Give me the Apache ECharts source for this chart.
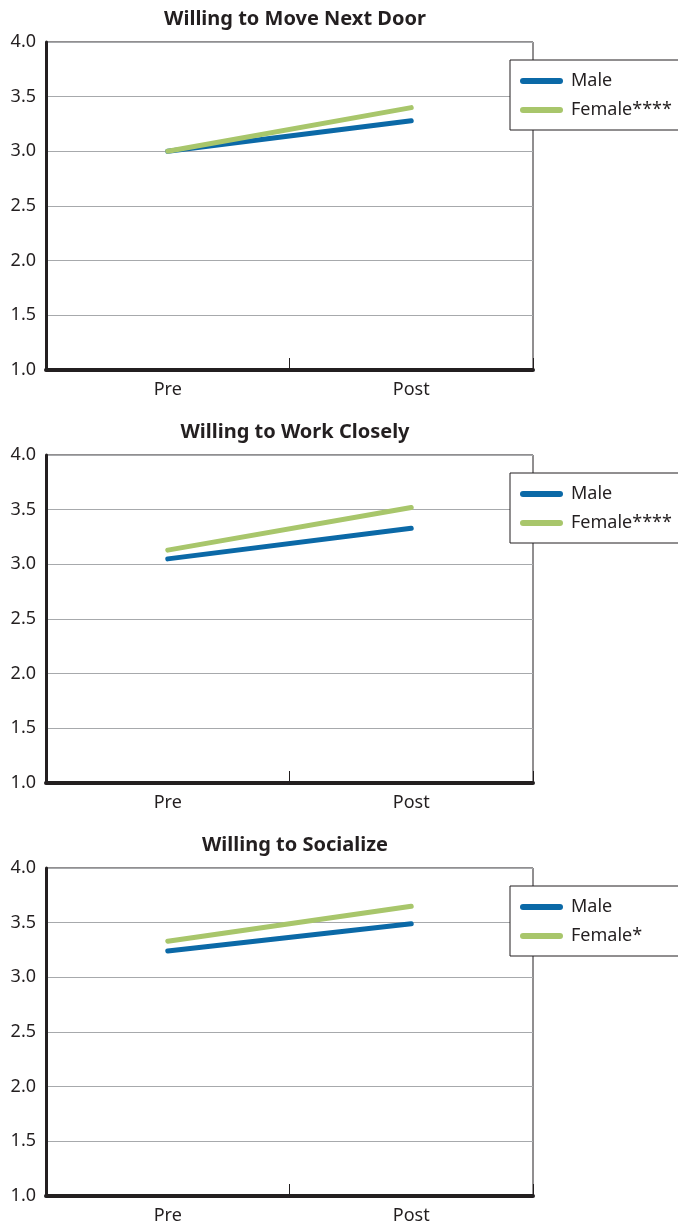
<!DOCTYPE html>
<html>
<head>
<meta charset="utf-8">
<script src="https://cdn.jsdelivr.net/npm/echarts@6/dist/echarts.min.js"></script>
<style>
  html, body { margin: 0; padding: 0; background: #fff; }
  .chart { width: 678px; }
</style>
</head>
<body>
<div id="c1" class="chart" style="height:413px"></div>
<div id="c2" class="chart" style="height:413px"></div>
<div id="c3" class="chart" style="height:402px"></div>
<script>
const periods = ['Pre', 'Post'];
const titles = ['Willing to Move Next Door', 'Willing to Work Closely', 'Willing to Socialize'];
const femaleNames = ['Female****', 'Female****', 'Female*'];
// mean scores
const maleMove = [3.0, 3.28];
const femaleMove = [3.0, 3.40];
const maleWork = [3.05, 3.33];
const femaleWork = [3.13, 3.52];
const maleSocial = [3.24, 3.49];
const femaleSocial = [3.33, 3.65];

const ink = '#231f20';
const font = '"Noto Sans", "Open Sans", sans-serif';
const capsule = 'path://M3,0 H40 A3,3 0 0 1 40,6 H3 A3,3 0 0 1 3,0 Z';

function makeChart(id, title, male, female, femaleName) {
  const chart = echarts.init(document.getElementById(id));
  chart.setOption({
    animation: false,
    title: {
      text: title,
      left: 290,
      top: 4,
      textAlign: 'center',
      textStyle: { fontFamily: font, fontWeight: 'bold', fontSize: 20, color: ink }
    },
    legend: {
      data: [
        { name: 'Male', icon: capsule },
        { name: femaleName, icon: capsule }
      ],
      orient: 'vertical',
      left: 510,
      top: 60,
      itemWidth: 43,
      itemHeight: 6,
      itemGap: 9,
      padding: [11, 40, 10, 10],
      backgroundColor: '#fff',
      borderColor: ink,
      borderWidth: 1,
      borderRadius: 0,
      textStyle: { fontFamily: font, fontSize: 18, color: ink, lineHeight: 20, padding: [0, 0, 0, 3] },
      selectedMode: false
    },
    grid: {
      left: 46, top: 42, width: 487, height: 328,
      show: true, borderColor: ink, borderWidth: 1, backgroundColor: 'transparent'
    },
    xAxis: {
      type: 'category',
      data: periods,
      boundaryGap: true,
      axisLine: { lineStyle: { color: ink, width: 4 } },
      axisTick: { show: true, inside: true, length: 12, lineStyle: { color: ink, width: 1 } },
      axisLabel: { margin: 11, fontFamily: font, fontSize: 18, color: ink }
    },
    yAxis: {
      type: 'value',
      min: 1, max: 4, interval: 0.5,
      axisLine: { show: true, lineStyle: { color: ink, width: 3 } },
      axisTick: { show: false },
      axisLabel: {
        margin: 10, fontFamily: font, fontSize: 18, color: ink,
        formatter: v => v.toFixed(1)
      },
      splitLine: { lineStyle: { color: '#a7a9ac', width: 1 } }
    },
    series: [
      {
        name: 'Male', type: 'line', data: male, symbol: 'none',
        itemStyle: { color: '#0b69a7' },
        lineStyle: { color: '#0b69a7', width: 5, cap: 'round' }
      },
      {
        name: femaleName, type: 'line', data: female, symbol: 'none',
        itemStyle: { color: '#a8c66b' },
        lineStyle: { color: '#a8c66b', width: 5, cap: 'round' }
      }
    ]
  });
  return chart;
}

makeChart('c1', titles[0], maleMove, femaleMove, femaleNames[0]);
makeChart('c2', titles[1], maleWork, femaleWork, femaleNames[1]);
makeChart('c3', titles[2], maleSocial, femaleSocial, femaleNames[2]);
</script>
</body>
</html>
